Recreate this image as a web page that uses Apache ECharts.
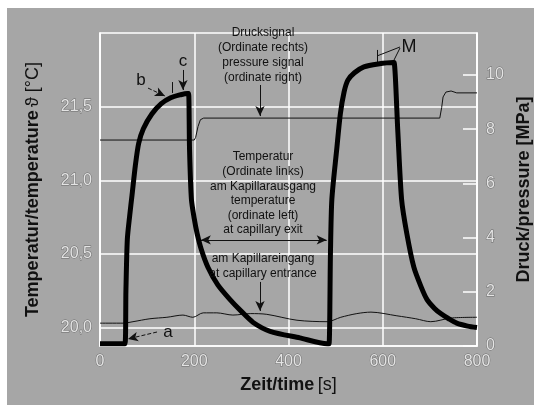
<!DOCTYPE html>
<html>
<head>
<meta charset="utf-8">
<script src="https://cdn.jsdelivr.net/npm/echarts@6/dist/echarts.min.js"></script>
<style>
  html, body { margin: 0; padding: 0; background: #fff; }
  #chart { width: 534px; height: 408px; }
</style>
</head>
<body>
<div id="chart"></div>
<script>
// Temperatur am Kapillarausgang (dicke Kurve) – Zeit [s] / Temperatur [°C]
var exitTime = [0, 53, 55, 58, 63, 68, 75, 82, 92, 110, 130, 150, 170, 185, 188, 190, 194, 200, 206, 215, 229, 250, 276, 300, 325, 361, 424, 482,
  486, 489, 492, 502, 510, 518, 526, 540, 560, 590, 622, 624, 632, 640, 651, 666, 681, 694, 710, 723, 740, 757, 780, 800]
var exitTemp = [19.89, 19.89, 20.25, 20.6, 20.76, 20.9, 21.1, 21.25, 21.35, 21.45, 21.52, 21.56, 21.58, 21.59, 21.59, 21.21, 20.87, 20.74, 20.64, 20.53, 20.41, 20.29, 20.19, 20.11, 20.035, 19.975, 19.93, 19.89,
  19.89, 20.5, 20.87, 21.2, 21.45, 21.6, 21.68, 21.73, 21.77, 21.79, 21.8, 21.8, 21.33, 20.87, 20.64, 20.41, 20.28, 20.19, 20.13, 20.095, 20.06, 20.03, 20.01, 20.0]

// Temperatur am Kapillareingang (dünne Kurve, Ordinate links)
var entranceTime = [0, 49, 70, 106, 142, 176, 197, 219, 248, 282, 320, 354, 418, 482, 511, 545, 575, 630, 670, 702, 745, 800]
var entranceTemp = [20.03, 20.03, 20.04, 20.06, 20.07, 20.085, 20.07, 20.1, 20.1, 20.085, 20.095, 20.09, 20.05, 20.04, 20.07, 20.095, 20.105, 20.08, 20.06, 20.04, 20.065, 20.07]

// Drucksignal (Ordinate rechts) – MPa
var pressureTime = [0, 200, 203, 208, 213, 220, 721, 725, 728, 734, 738, 745, 757, 800]
var pressureValue = [7.6, 7.6, 7.7, 8.1, 8.35, 8.41, 8.41, 8.8, 9.19, 9.37, 9.33, 9.41, 9.34, 9.34]

// Achsenbeschriftung
var tempTicks = [20.0, 20.5, 21.0, 21.5]
var pressureTicks = [0, 2, 4, 6, 8, 10]

function pairs(xs, ys) {
  return xs.map(function (x, i) { return [x, ys[i]] })
}

var fontFam = "'Liberation Sans', 'DejaVu Sans', sans-serif"
var tickLabel = {
  fontFamily: fontFam,
  fontSize: 16,
  color: '#e4e4e4',
  textBorderColor: '#6a6a6a',
  textBorderWidth: 1
}
var white = { color: '#fff', width: 1.5 }

// Pfeile und Hilfslinien (in Datenkoordinaten der linken Achse)
function arrow(a, b, dashed, both) {
  return [
    { coord: a, symbol: both ? 'arrow' : 'none' },
    { coord: b, symbol: 'arrow', lineStyle: { type: dashed ? 'dashed' : 'solid' } }
  ]
}
function plain(a, b) {
  return [{ coord: a, symbol: 'none' }, { coord: b, symbol: 'none' }]
}

var chart = echarts.init(document.getElementById('chart'))
chart.setOption({
  backgroundColor: '#fff',
  animation: false,
  grid: {
    left: 100, right: 57, top: 33, bottom: 62,
    outerBoundsMode: 'none',
    show: true, borderColor: '#fff', borderWidth: 1.5
  },
  xAxis: {
    type: 'value',
    min: 0, max: 800, interval: 200,
    name: '{b|Zeit/time} {n|[s]}',
    nameLocation: 'middle',
    nameGap: 30,
    nameTextStyle: {
      rich: {
        b: { fontFamily: fontFam, fontSize: 18, fontWeight: 'bold', color: '#111' },
        n: { fontFamily: fontFam, fontSize: 18, color: '#111' }
      }
    },
    axisLine: { lineStyle: white },
    axisTick: { show: false },
    axisLabel: Object.assign({ margin: 8 }, tickLabel),
    splitLine: { lineStyle: white }
  },
  yAxis: [
    {
      type: 'value',
      position: 'left',
      min: 19.875, max: 22.0,
      name: '{b|Temperatur/temperature} {n|ϑ [°C]}',
      nameLocation: 'middle',
      nameGap: 58,
      nameTextStyle: {
        rich: {
          b: { fontFamily: fontFam, fontSize: 18, fontWeight: 'bold', color: '#111' },
          n: { fontFamily: fontFam, fontSize: 18, color: '#111' }
        }
      },
      axisLine: { show: true, lineStyle: white },
      axisTick: { show: false, customValues: tempTicks },
      axisLabel: Object.assign({
        margin: 8,
        customValues: tempTicks,
        formatter: function (v) { return v.toFixed(1).replace('.', ',') }
      }, tickLabel),
      splitLine: { show: true, lineStyle: white }
    },
    {
      type: 'value',
      position: 'right',
      min: 0, max: 11.55,
      name: 'Druck/pressure [MPa]',
      nameLocation: 'middle',
      nameGap: 33,
      nameTextStyle: { fontFamily: fontFam, fontSize: 18, fontWeight: 'bold', color: '#111' },
      axisLine: { show: true, lineStyle: white },
      axisTick: { show: true, inside: true, length: 14, customValues: pressureTicks, lineStyle: white },
      axisLabel: Object.assign({ margin: 9, customValues: pressureTicks }, tickLabel),
      splitLine: { show: false }
    }
  ],
  graphic: [
    {
      type: 'rect', z: -10, silent: true,
      shape: { x: 7, y: 8, width: 527, height: 397 },
      style: { fill: '#a6a6a6' }
    },
    {
      type: 'text', x: 263, y: 55.5, z: 10,
      style: {
        text: 'Drucksignal\n(Ordinate rechts)\npressure signal\n(ordinate right)',
        font: '12px ' + fontFam, fill: '#111', align: 'center', verticalAlign: 'middle', lineHeight: 15
      }
    },
    {
      type: 'text', x: 263, y: 193.5, z: 10,
      style: {
        text: 'Temperatur\n(Ordinate links)\nam Kapillarausgang\ntemperature\n(ordinate left)\nat capillary exit',
        font: '12px ' + fontFam, fill: '#111', align: 'center', verticalAlign: 'middle', lineHeight: 14.6
      }
    },
    {
      type: 'text', x: 263, y: 266, z: 10,
      style: {
        text: 'am Kapillareingang\nat capillary entrance',
        font: '12px ' + fontFam, fill: '#111', align: 'center', verticalAlign: 'middle', lineHeight: 14.6
      }
    },
    { type: 'text', x: 168, y: 332, z: 10, style: { text: 'a', font: '17px ' + fontFam, fill: '#111', align: 'center', verticalAlign: 'middle' } },
    { type: 'text', x: 141, y: 80, z: 10, style: { text: 'b', font: '17px ' + fontFam, fill: '#111', align: 'center', verticalAlign: 'middle' } },
    { type: 'text', x: 183, y: 61, z: 10, style: { text: 'c', font: '17px ' + fontFam, fill: '#111', align: 'center', verticalAlign: 'middle' } },
    { type: 'text', x: 409, y: 47, z: 10, style: { text: 'M', font: '18px ' + fontFam, fill: '#111', align: 'center', verticalAlign: 'middle' } }
  ],
  series: [
    {
      name: 'Ausgang',
      type: 'line',
      yAxisIndex: 0,
      showSymbol: false,
      smooth: 0.25,
      z: 5,
      data: pairs(exitTime, exitTemp),
      lineStyle: { color: '#000', width: 5, join: 'miter' },
      markLine: {
        silent: true,
        symbolSize: [7, 10],
        label: { show: false },
        lineStyle: { color: '#111', width: 1, type: 'solid' },
        data: [
          arrow([339.5, 21.647], [339.5, 21.436]),
          arrow([214, 20.595], [481, 20.595], false, true),
          arrow([339.5, 20.31], [339.5, 20.113]),
          arrow([176, 21.749], [176, 21.613]),
          arrow([101.9, 21.626], [137.9, 21.572], true),
          arrow([121, 19.97], [59.4, 19.923], true),
          plain([587.8, 21.844], [636.6, 21.905]),
          plain([621.8, 21.803], [636.6, 21.898]),
          plain([587.8, 21.885], [587.8, 21.803]),
          plain([152.8, 21.667], [152.8, 21.593])
        ]
      }
    },
    {
      name: 'Eingang',
      type: 'line',
      yAxisIndex: 0,
      showSymbol: false,
      smooth: 0.3,
      z: 4,
      data: pairs(entranceTime, entranceTemp),
      lineStyle: { color: '#111', width: 1 }
    },
    {
      name: 'Druck',
      type: 'line',
      yAxisIndex: 1,
      showSymbol: false,
      z: 4,
      data: pairs(pressureTime, pressureValue),
      lineStyle: { color: '#111', width: 1 }
    }
  ]
})
</script>
</body>
</html>
